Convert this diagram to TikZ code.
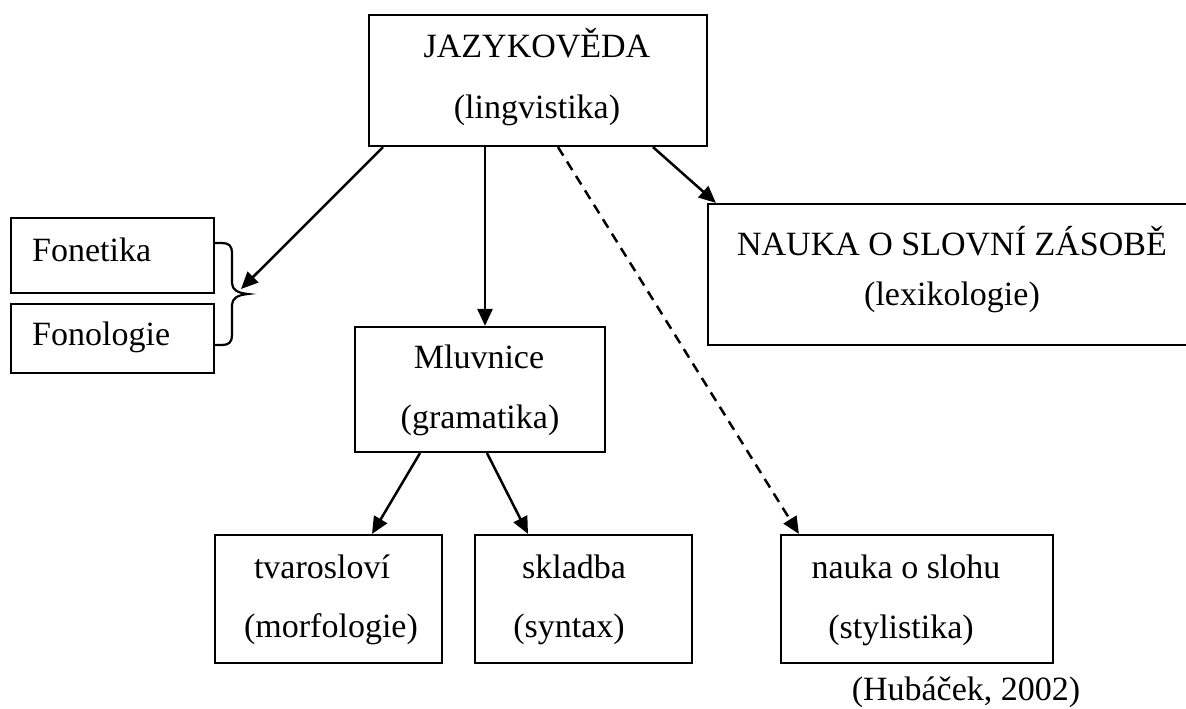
\documentclass[tikz,border=0pt]{standalone}
\usepackage{fontspec}
\setmainfont{Liberation Serif}
\usetikzlibrary{arrows.meta,calc}
\tikzset{
  box/.style={draw, line width=2.2pt, inner sep=0pt, rectangle},
  lbl/.style={inner sep=0pt, anchor=base, font=\fontsize{34}{40}\selectfont},
  lbll/.style={lbl, anchor=base west},
  conn/.style={line width=2.5pt, -{Triangle[length=17pt,width=15pt]}},
  dconn/.style={conn, dash pattern=on 10pt off 7pt},
}
\begin{document}
\begin{tikzpicture}[x=1pt,y=-1pt]
\useasboundingbox (0,0) rectangle (1186,709);
% boxes
\node[box, minimum width=338pt, minimum height=131pt] (jaz) at (538,80.5) {};
\node[box, minimum width=488pt, minimum height=141pt] (nauka) at (952,274.5) {};
\node[box, minimum width=203pt, minimum height=75pt] (fon1) at (112.5,255.5) {};
\node[box, minimum width=203pt, minimum height=69pt] (fon2) at (112.5,338.5) {};
\node[box, minimum width=250pt, minimum height=125pt] (mluv) at (480,389.5) {};
\node[box, minimum width=227pt, minimum height=128pt] (tvar) at (328.5,599) {};
\node[box, minimum width=217pt, minimum height=128pt] (sklad) at (583.5,599) {};
\node[box, minimum width=272pt, minimum height=128pt] (sloh) at (917,599) {};
% texts
\node[lbl] (t1) at (537,58) {JAZYKOVĚDA};
\node[lbl] (t2) at (537,118) {(lingvistika)};
\node[lbl] (t3) at (952,255) {NAUKA O SLOVNÍ ZÁSOBĚ};
\node[lbl] (t4) at (952,305) {(lexikologie)};
\node[lbll] (t5) at (32,261) {Fonetika};
\node[lbll] (t6) at (32,345) {Fonologie};
\node[lbl] (t7) at (479,368) {Mluvnice};
\node[lbl] (t8) at (480,428) {(gramatika)};
\node[lbl] (t9) at (322,578) {tvarosloví};
\node[lbl] (t10) at (331,637) {(morfologie)};
\node[lbl] (t11) at (574,578) {skladba};
\node[lbl] (t12) at (569,637) {(syntax)};
\node[lbl] (t13) at (906,578) {nauka o slohu};
\node[lbl] (t14) at (901,638) {(stylistika)};
\node[lbl] (t15) at (966,700) {(Hubáček, 2002)};
% brace
\draw[line width=2.2pt] (fon1.east |- 0,243) -- (222,243)
  .. controls (229,243) and (232,246) .. (232,253) -- (232,283)
  .. controls (232,290) and (238,293) .. (248,294)
  .. controls (238,295) and (232,298) .. (232,305) -- (232,335)
  .. controls (232,342) and (229,345) .. (222,345) -- (fon2.east |- 0,345);
\coordinate (bt) at (241,289);
% connectors
\draw[conn] ([xshift=-155pt]jaz.south) -- (bt);
\draw[conn] ([xshift=-53pt]jaz.south) -- ([xshift=5pt]mluv.north);
\draw[conn] ([xshift=115pt]jaz.south) -- ([xshift=9pt]nauka.north west);
\draw[dconn] ([xshift=20pt]jaz.south) -- ([xshift=19pt]sloh.north west);
\draw[conn] ([xshift=-60pt]mluv.south) -- ([xshift=43.5pt]tvar.north);
\draw[conn] ([xshift=7pt]mluv.south) -- ([xshift=-55.5pt]sklad.north);
\end{tikzpicture}
\end{document}
